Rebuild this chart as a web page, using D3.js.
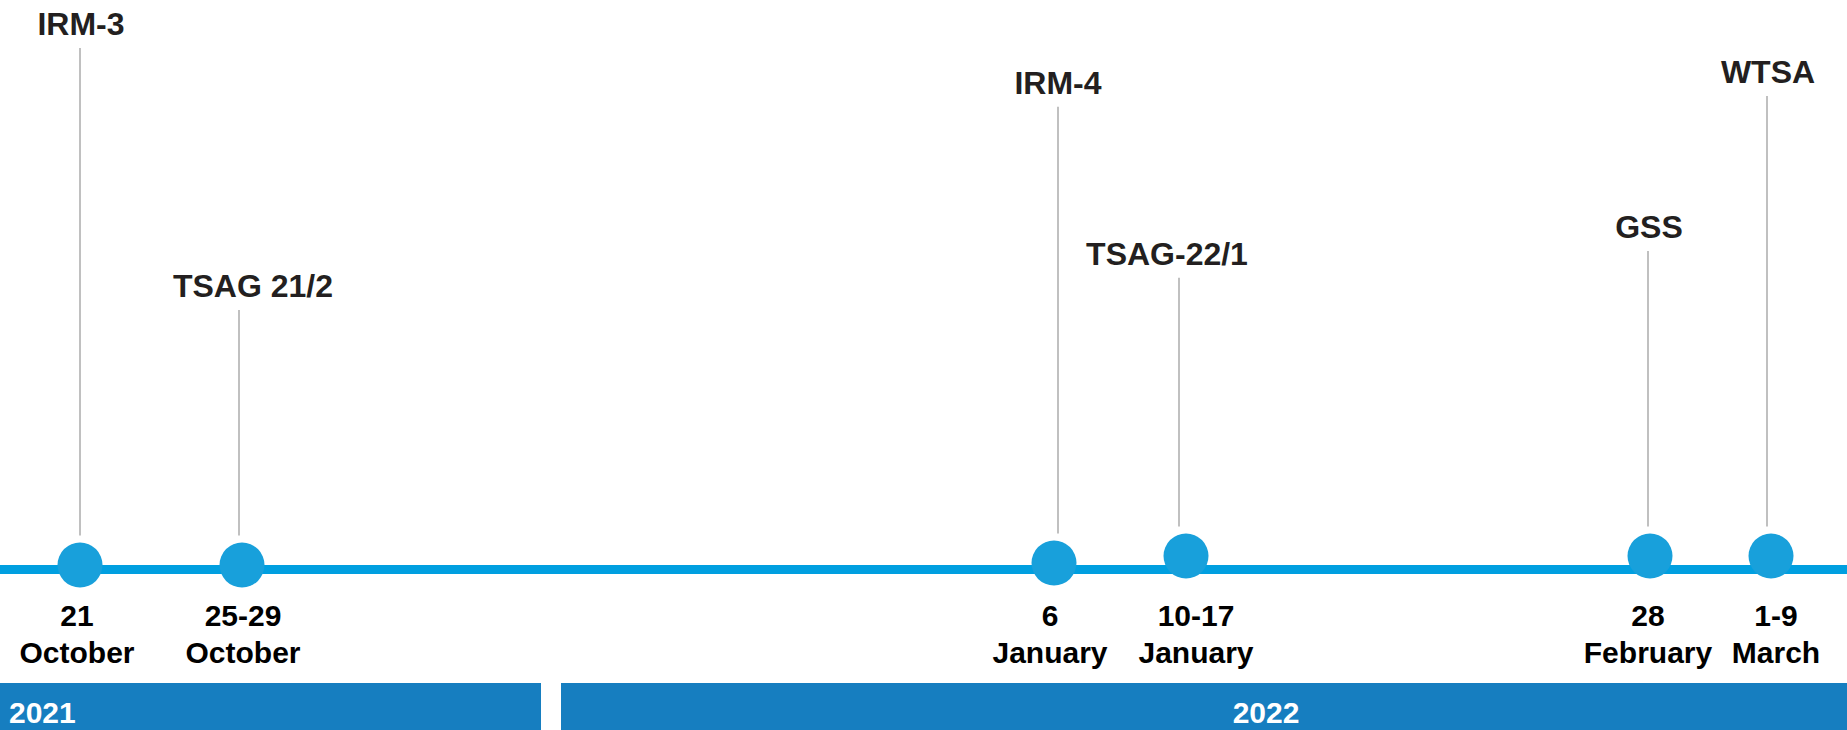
<!DOCTYPE html>
<html>
<head>
<meta charset="utf-8">
<script src="https://cdn.jsdelivr.net/npm/d3@7"></script>
<style>
  html, body { margin: 0; padding: 0; background: #ffffff; }
  svg { display: block; }
  text { font-family: "Liberation Sans", Arial, sans-serif; font-weight: bold; }
</style>
</head>
<body>
<svg id="chart"></svg>
<script>
// event data
var EVENT_NAMES = ["IRM-3", "TSAG 21/2", "IRM-4", "TSAG-22/1", "GSS", "WTSA"];
var EVENT_DATES = ["2021-10-21", "2021-10-27", "2022-01-06", "2022-01-13", "2022-02-28", "2022-03-05"];
var DAY_LABELS = ["21", "25-29", "6", "10-17", "28", "1-9"];
var MONTH_LABELS = ["October", "October", "January", "January", "February", "March"];
// relative stem height (0 = timeline, 100 = top of the chart)
var STEM_LEVELS = [100, 51, 89, 57, 62, 91];
var YEARS = ["2021", "2022"];

var WIDTH = 1847;
var HEIGHT = 730;
var LINE_Y = 569.5;
var DOT_Y = 565;
var DOT_R = 22.5;

// small hand nudges so the labels sit like in the slide
var NAME_NUDGE = [1, 11, 4, -19, -1, -3];
var STEM_NUDGE = [0, -3, 4, -7, -2, -4];
var DATE_NUDGE = [-3, 1, -4, 10, -2, 5];
var DOT_LIFT = [0, 0, 2, 9, 9, 9];

var parse = d3.timeParse("%Y-%m-%d");
var dates = EVENT_DATES.map(parse);

var svg = d3.select("#chart").attr("width", WIDTH).attr("height", HEIGHT);

// the timeline is not to scale, so a piecewise time scale is used
var x = d3.scaleTime()
          .domain(dates)
          .range([80, 242, 1054, 1186, 1650, 1771]);

var yStem = d3.scaleLinear().domain([0, 100]).range([LINE_Y, 35]);

// main timeline
svg.append("line")
   .attr("x1", 0)
   .attr("x2", WIDTH)
   .attr("y1", LINE_Y)
   .attr("y2", LINE_Y)
   .attr("stroke", "#009FE0")
   .attr("stroke-width", 9);

var events = EVENT_NAMES.map(function(name, i) {
  return { i: i, name: name, date: dates[i], day: DAY_LABELS[i], month: MONTH_LABELS[i], level: STEM_LEVELS[i] };
});

// stems
svg.selectAll(".stem")
   .data(events)
   .enter()
   .append("line")
   .attr("class", "stem")
   .attr("x1", function(d) { return x(d.date) + STEM_NUDGE[d.i]; })
   .attr("x2", function(d) { return x(d.date) + STEM_NUDGE[d.i]; })
   .attr("y1", function(d) { return yStem(d.level) + 13; })
   .attr("y2", function(d) { return DOT_Y - DOT_LIFT[d.i] - DOT_R - 7; })
   .attr("stroke", "#ababab")
   .attr("stroke-width", 1.5);

// event names
svg.selectAll(".name")
   .data(events)
   .enter()
   .append("text")
   .attr("class", "name")
   .text(function(d) { return d.name; })
   .attr("x", function(d) { return x(d.date) + NAME_NUDGE[d.i]; })
   .attr("y", function(d) { return yStem(d.level); })
   .attr("text-anchor", "middle")
   .attr("font-size", "32px")
   .attr("fill", "#231F20");

// dots
svg.selectAll(".dot")
   .data(events)
   .enter()
   .append("circle")
   .attr("class", "dot")
   .attr("cx", function(d) { return x(d.date); })
   .attr("cy", function(d) { return DOT_Y - DOT_LIFT[d.i]; })
   .attr("r", DOT_R)
   .attr("fill", "#18A0DB");

// date labels
svg.selectAll(".day")
   .data(events)
   .enter()
   .append("text")
   .attr("class", "day")
   .text(function(d) { return d.day; })
   .attr("x", function(d) { return x(d.date) + DATE_NUDGE[d.i]; })
   .attr("y", 626)
   .attr("text-anchor", "middle")
   .attr("font-size", "30px")
   .attr("fill", "#000000");

svg.selectAll(".month")
   .data(events)
   .enter()
   .append("text")
   .attr("class", "month")
   .text(function(d) { return d.month; })
   .attr("x", function(d) { return x(d.date) + DATE_NUDGE[d.i]; })
   .attr("y", 663)
   .attr("text-anchor", "middle")
   .attr("font-size", "30px")
   .attr("fill", "#000000");

// year bands
var BAND_SPLIT = 551;
var BAND_GAP = 10;
var BAND_TOP = 683;

svg.append("rect")
   .attr("x", 0)
   .attr("y", BAND_TOP)
   .attr("width", BAND_SPLIT - BAND_GAP)
   .attr("height", HEIGHT - BAND_TOP)
   .attr("fill", "#167EC0");

svg.append("rect")
   .attr("x", BAND_SPLIT + BAND_GAP)
   .attr("y", BAND_TOP)
   .attr("width", WIDTH - BAND_SPLIT - BAND_GAP)
   .attr("height", HEIGHT - BAND_TOP)
   .attr("fill", "#167EC0");

svg.append("text")
   .text(YEARS[0])
   .attr("x", 9)
   .attr("y", 723)
   .attr("font-size", "30px")
   .attr("fill", "#ffffff");

svg.append("text")
   .text(YEARS[1])
   .attr("x", 1266)
   .attr("y", 723)
   .attr("text-anchor", "middle")
   .attr("font-size", "30px")
   .attr("fill", "#ffffff");
</script>
</body>
</html>
